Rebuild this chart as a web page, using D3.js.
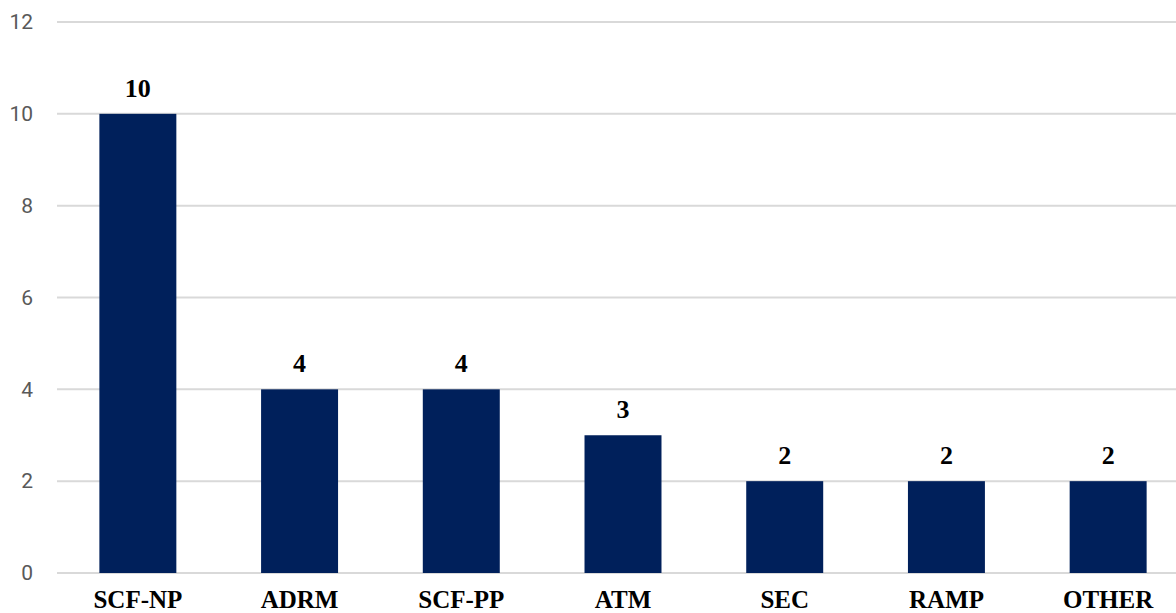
<!DOCTYPE html>
<html>
<head>
<meta charset="utf-8">
<script src="https://cdn.jsdelivr.net/npm/d3@7"></script>
<style>
  html, body { margin: 0; padding: 0; background: #fff; }
  svg { display: block; }
</style>
</head>
<body>
<div id="chart"></div>
<script>
// Counts by category
const categories = ["SCF-NP", "ADRM", "SCF-PP", "ATM", "SEC", "RAMP", "OTHER"];
const counts = [10, 4, 4, 3, 2, 2, 2];
const yTicks = [0, 2, 4, 6, 8, 10, 12];

const width = 1176, height = 613;
const svg = d3.select("#chart").append("svg")
  .attr("width", width).attr("height", height);

const x = d3.scaleBand()
  .domain(categories)
  .range([57, 1189])
  .paddingInner(0.524)
  .paddingOuter(0.262);

const y = d3.scaleLinear()
  .domain([0, 12])
  .range([573, 22]);

// Horizontal gridlines
svg.append("g")
  .selectAll("line")
  .data(yTicks)
  .join("line")
  .attr("x1", 57).attr("x2", width)
  .attr("y1", d => y(d)).attr("y2", d => y(d))
  .attr("stroke", "#d9d9d9")
  .attr("stroke-width", 2);

// Y axis labels
const yAxis = d3.axisLeft(y).tickValues(yTicks).tickSize(0).tickPadding(0);
const gy = svg.append("g").attr("transform", "translate(33,0)").call(yAxis);
gy.select(".domain").remove();
gy.selectAll("text")
  .attr("fill", "#595959")
  .style("font-family", "Roboto, 'Liberation Sans', Arial, sans-serif")
  .style("font-size", "21px");

// Bars
svg.append("g")
  .selectAll("rect")
  .data(categories)
  .join("rect")
  .attr("x", d => x(d))
  .attr("width", x.bandwidth())
  .attr("y", (d, i) => y(counts[i]))
  .attr("height", (d, i) => y(0) - y(counts[i]))
  .attr("fill", "#00205b");

// Value labels
svg.append("g")
  .selectAll("text")
  .data(categories)
  .join("text")
  .attr("x", d => x(d) + x.bandwidth() / 2)
  .attr("y", (d, i) => y(counts[i]) - 17)
  .attr("text-anchor", "middle")
  .style("font-family", "'Liberation Serif', 'Times New Roman', serif")
  .style("font-weight", "bold")
  .style("font-size", "26px")
  .attr("fill", "#000")
  .text((d, i) => counts[i]);

// Category labels
const xAxis = d3.axisBottom(x).tickSize(0).tickPadding(0);
const gx = svg.append("g").attr("transform", "translate(0,573)").call(xAxis);
gx.select(".domain").remove();
gx.selectAll("text")
  .attr("dy", null)
  .attr("y", 35)
  .attr("fill", "#000")
  .style("font-family", "'Liberation Serif', 'Times New Roman', serif")
  .style("font-weight", "bold")
  .style("font-size", "25px");
</script>
</body>
</html>
